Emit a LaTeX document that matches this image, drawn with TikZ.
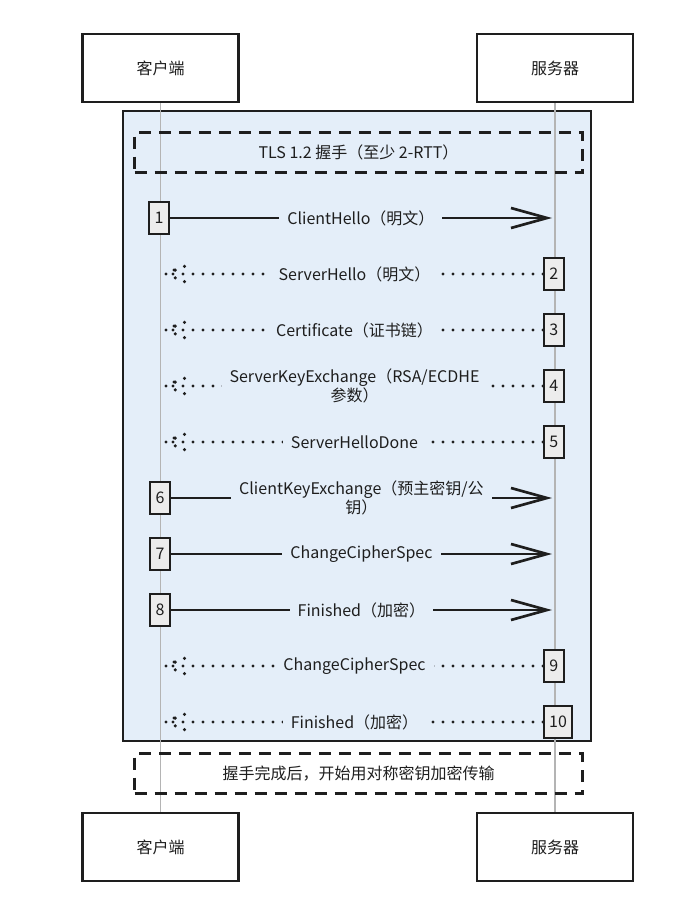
\documentclass[tikz,border=0pt]{standalone}
\usepackage{fontspec}
\setmainfont{Noto Sans CJK SC}
\usetikzlibrary{arrows.meta}

\definecolor{framebg}{HTML}{E4EEF9}
\definecolor{actbg}{HTML}{ECECEC}
\definecolor{lifegray}{HTML}{B4B4B4}
\definecolor{ink}{HTML}{1E1E1E}

\tikzset{
	party/.style={draw=ink, line width=1.6pt, fill=white, minimum width=117pt, minimum height=51pt},
	life/.style={draw=lifegray, line width=1.1pt},
	frame/.style={draw=ink, line width=1.9pt, fill=framebg},
	note/.style={draw=ink, line width=2pt, dash pattern=on 9pt off 6pt, minimum width=336pt, minimum height=30pt},
	act/.style={draw=ink, line width=1.3pt, fill=actbg, minimum width=15pt, minimum height=24pt, inner xsep=4pt, inner ysep=2pt},
	call/.style={draw=ink, line width=2pt, -{Straight Barb[length=27pt,width=15pt]}},
	back/.style={draw=ink, line width=2.6pt, line cap=round, dash pattern=on 0pt off 7.5pt},
	lbl/.style={fill=framebg, inner xsep=6pt, inner ysep=1pt, align=center},
	dothead/.pic={\draw[back] (0,0) -- (22,-9) (0,0) -- (22,9) (8,-4) -- (8,4);}
}

\begin{document}
\begin{tikzpicture}[x=0.75pt, y=-0.75pt, every node/.style={font=\fontsize{12}{14.5}\selectfont, text=ink}]

	\useasboundingbox (0,0) rectangle (686,917);

	\draw[frame] (123,111) rectangle (591,741);

	\node[party] (CT) at (160.5,68) {客户端};
	\node[party] (ST) at (555,68) {服务器};
	\node[party] (CB) at (160.5,847) {客户端};
	\node[party] (SB) at (555,847) {服务器};

	\draw[life] (CT.south) -- (CB.north);
	\draw[life] (ST.south) -- (SB.north);

	\node[note] (TLS) at (358.5,152.5) {TLS 1.2 握手（至少 2-RTT）};
	\node[note] (DONE) at (358.5,773.5) {握手完成后，开始用对称密钥加密传输};

	\node[act] (N1) at (159,218) {1};
	\node[act, anchor=west] (N2) at (543,274) {2};
	\node[act, anchor=west] (N3) at (543,330) {3};
	\node[act, anchor=west] (N4) at (543,386) {4};
	\node[act, anchor=west] (N5) at (543,442) {5};
	\node[act] (N6) at (160,498) {6};
	\node[act] (N7) at (160,554) {7};
	\node[act] (N8) at (160,610) {8};
	\node[act, anchor=west] (N9) at (543,666) {9};
	\node[act, anchor=west] (N10) at (543,722) {10};

	\coordinate (E1) at (552,218);
	\coordinate (E2) at (166,274);
	\coordinate (E3) at (166,330);
	\coordinate (E4) at (166,386);
	\coordinate (E5) at (166,442);
	\coordinate (E6) at (552,498);
	\coordinate (E7) at (552,554);
	\coordinate (E8) at (552,610);
	\coordinate (E9) at (166,666);
	\coordinate (E10) at (166,722);

	\draw[call] (N1.east) -- node[lbl] {ClientHello（明文）} (E1);
	\draw[back] (N2.west) -- node[lbl] {ServerHello（明文）} (E2);
	\draw[back] (N3.west) -- node[lbl] {Certificate（证书链）} (E3);
	\draw[back] (N4.west) -- node[lbl] {ServerKeyExchange（RSA/ECDHE\\参数）} (E4);
	\draw[back] (N5.west) -- node[lbl] {ServerHelloDone} (E5);
	\draw[call] (N6.east) -- node[lbl] {ClientKeyExchange（预主密钥/公\\钥）} (E6);
	\draw[call] (N7.east) -- node[lbl] {ChangeCipherSpec} (E7);
	\draw[call] (N8.east) -- node[lbl] {Finished（加密）} (E8);
	\draw[back] (N9.west) -- node[lbl] {ChangeCipherSpec} (E9);
	\draw[back] (N10.west) -- node[lbl] {Finished（加密）} (E10);

	\pic at (E2) {dothead};
	\pic at (E3) {dothead};
	\pic at (E4) {dothead};
	\pic at (E5) {dothead};
	\pic at (E9) {dothead};
	\pic at (E10) {dothead};

\end{tikzpicture}
\end{document}
